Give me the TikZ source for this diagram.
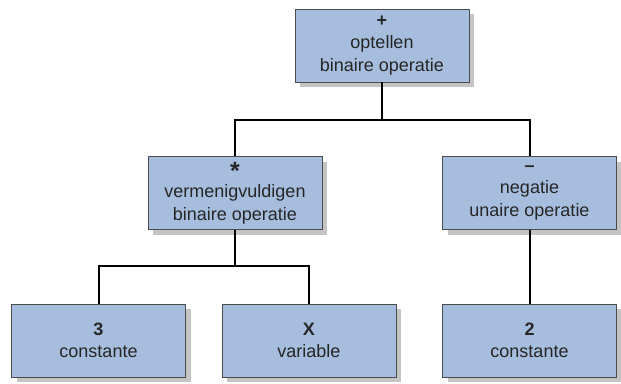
\documentclass[tikz,border=0pt]{standalone}
\usepackage{fontspec}
\setmainfont{Liberation Sans}
\usetikzlibrary{shadows}
\definecolor{boxblauw}{RGB}{166,189,222}
\definecolor{schaduw}{RGB}{196,196,196}
\newcommand{\ster}{\raisebox{-4pt}{\fontsize{25}{22}\selectfont\textbf{*}}}

\begin{document}
\begin{tikzpicture}[x=1pt,y=-1pt,
  blok/.style={draw=black!70,line width=0.8pt,fill=boxblauw,
    minimum width=174pt,minimum height=73pt,align=center,
    text=black!85,font=\fontsize{18}{22.5}\selectfont,
    drop shadow={shadow xshift=5pt,shadow yshift=-5pt,fill=schaduw,opacity=1}},
  tak/.style={line width=2pt,black}]
\useasboundingbox (0,0) rectangle (621,383);
\node[blok] (plus) at (382,45.5) {\textbf{+}\\optellen\\binaire operatie};
\node[blok] (maal) at (235,193) {\ster\\vermenigvuldigen\\binaire operatie};
\node[blok] (neg) at (529.5,193) {\textbf{–}\\negatie\\unaire operatie};
\node[blok] (drie) at (98.5,340.5) {\textbf{3}\\constante};
\node[blok] (x) at (309,340.5) {\textbf{X}\\variable};
\node[blok] (twee) at (529.5,340.5) {\textbf{2}\\constante};
\coordinate (j1) at (382,120);
\coordinate (j2) at (235,266);
\draw[tak] (plus.south) -- (j1);
\draw[tak] (maal.north) |- (j1) -| (neg.north);
\draw[tak] (maal.south) -- (j2);
\draw[tak] (drie.north) |- (j2) -| (x.north);
\draw[tak] (neg.south) -- (twee.north);
\end{tikzpicture}
\end{document}
